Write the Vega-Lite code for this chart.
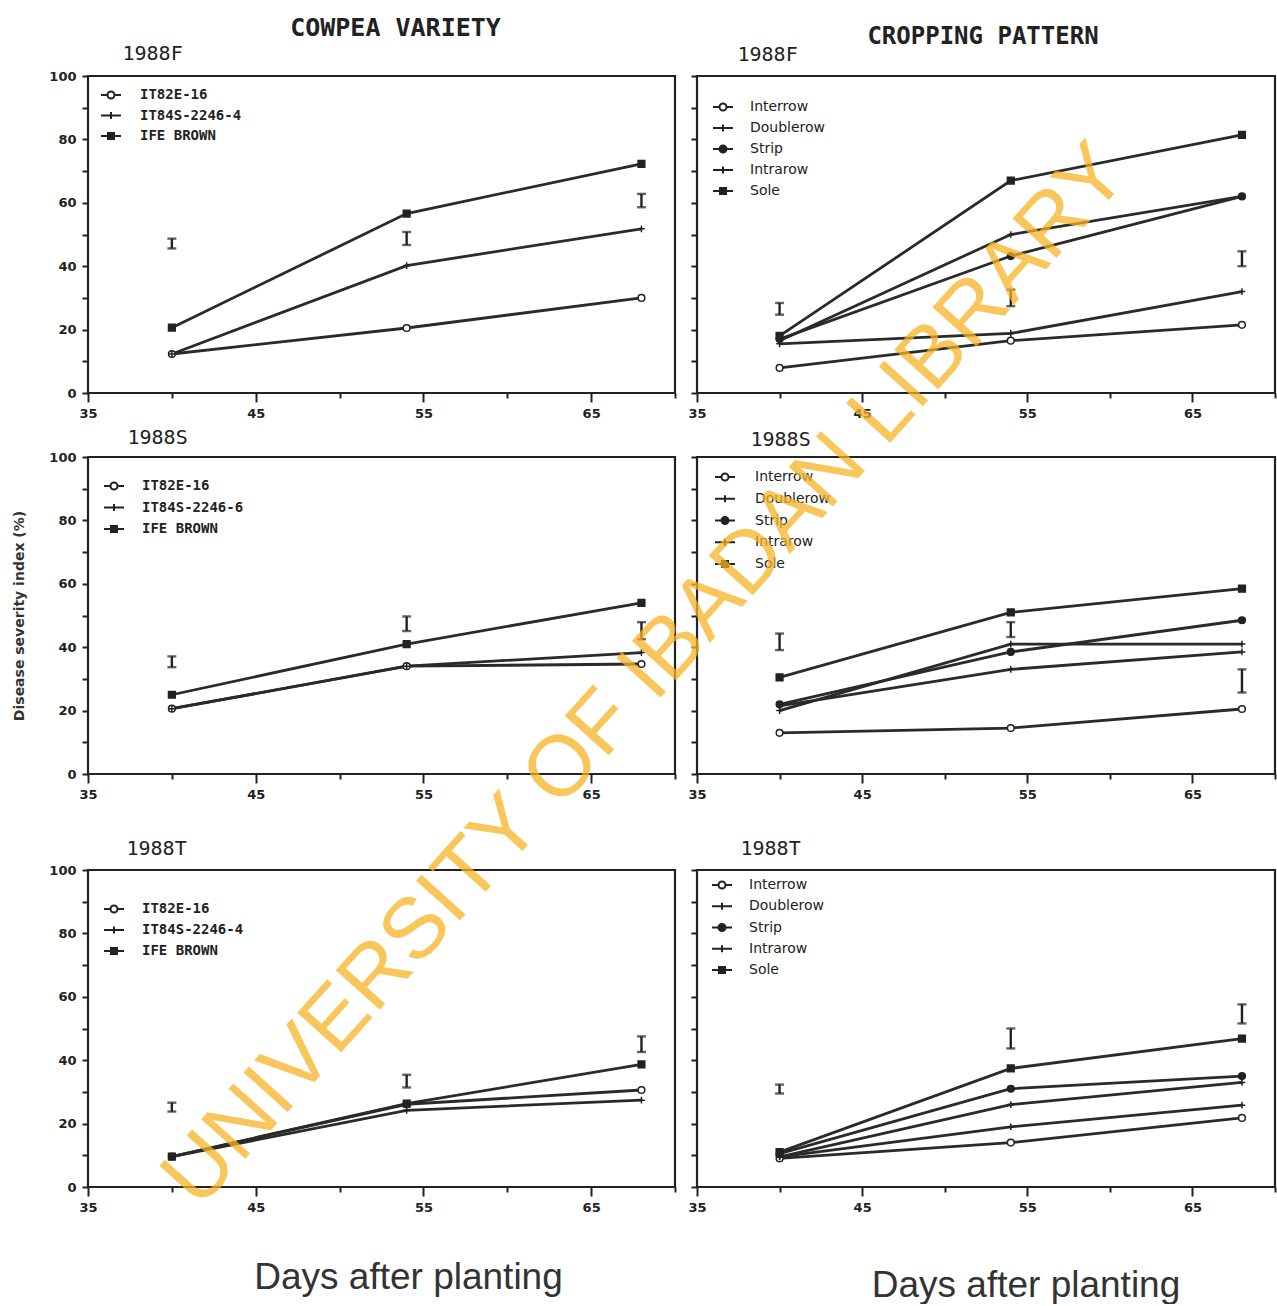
{
  "$schema": "https://vega.github.io/schema/vega-lite/v6.json",
  "background": "white",
  "padding": {"left": 12, "top": 16, "right": 0, "bottom": 0},
  "bounds": "flush",
  "align": "each",
  "columns": 2,
  "spacing": {"row": 64, "column": 22},
  "resolve": {
    "scale": {"shape": "independent", "fill": "independent"},
    "legend": {"shape": "independent", "fill": "independent"}
  },
  "config": {
    "view": {"stroke": null},
    "font": "DejaVu Sans",
    "axis": {
      "domain": false,
      "grid": false,
      "tickColor": "#222222",
      "tickWidth": 2,
      "labelFont": "DejaVu Sans",
      "labelFontWeight": "bold",
      "labelFontSize": 13,
      "labelColor": "#222222",
      "titleFont": "DejaVu Sans Mono",
      "titleFontSize": 20,
      "titleFontWeight": "normal",
      "titleColor": "#222222"
    },
    "axisX": {"labelFlush": false, "labelPadding": 5},
    "axisY": {"labelPadding": 6, "tickSize": 6},
    "legend": {
      "orient": "none",
      "symbolSize": 400,
      "symbolOpacity": 1,
      "symbolStrokeColor": "#222222",
      "symbolStrokeWidth": 2,
      "symbolFillColor": "transparent",
      "padding": 0,
      "labelColor": "#222222",
      "labelFontSize": 14
    }
  },
  "concat": [
    {
      "width": 587,
      "height": 317,
      "title": {"text": "COWPEA VARIETY", "anchor": "middle", "frame": "group", "dx": 14, "offset": -18, "baseline": "alphabetic", "font": "DejaVu Sans Mono", "fontSize": 25, "fontWeight": "bold", "color": "#222222"},
      "resolve": {"scale": {"shape": "independent", "fill": "independent"}},
      "data": {"values": [
        {"series": "IT82E-16", "day": 40, "severity": 12.3},
        {"series": "IT82E-16", "day": 54, "severity": 20.5},
        {"series": "IT82E-16", "day": 68, "severity": 30.0},
        {"series": "IT84S-2246-4", "day": 40, "severity": 12.3},
        {"series": "IT84S-2246-4", "day": 54, "severity": 40.2},
        {"series": "IT84S-2246-4", "day": 68, "severity": 51.8},
        {"series": "IFE BROWN", "day": 40, "severity": 20.6},
        {"series": "IFE BROWN", "day": 54, "severity": 56.6},
        {"series": "IFE BROWN", "day": 68, "severity": 72.3}
      ]},
      "encoding": {
        "x": {"field": "day", "type": "quantitative", "scale": {"domain": [35, 70], "nice": false, "zero": false},
          "axis": {"values": [35, 40, 45, 50, 55, 60, 65, 70], "labelExpr": "(datum.value - 35) % 10 === 0 ? datum.label : ''",
            "tickSize": {"condition": {"test": "(datum.value - 35) % 10 === 0", "value": 9}, "value": 5}, "title": null}},
        "y": {"field": "severity", "type": "quantitative", "scale": {"domain": [0, 100], "nice": false},
          "axis": {"values": [0, 10, 20, 30, 40, 50, 60, 70, 80, 90, 100], "labelExpr": "datum.value % 20 === 0 ? datum.label : ''",
            "title": "1988F", "titleAngle": 0, "titleAlign": "left", "titleBaseline": "alphabetic", "titleX": 34, "titleY": -17}}
      },
      "layer": [
        {"data": {"values": [{"part": "frame"}]}, "mark": {"type": "rect", "filled": false, "color": "#222222", "strokeWidth": 2.2, "invalid": "show"},
          "encoding": {"x": {"datum": 35, "type": "quantitative"}, "x2": {"datum": 70}, "y": {"datum": 0, "type": "quantitative"}, "y2": {"datum": 100}}},
        {"mark": {"type": "line", "color": "#2a2a2a", "strokeWidth": 2.8}, "encoding": {"detail": {"field": "series", "type": "nominal"}}},
        {"mark": {"type": "point", "filled": true, "stroke": "#222222", "strokeWidth": 1.5, "size": 45, "opacity": 1},
          "encoding": {
            "shape": {"field": "series", "type": "nominal",
              "scale": {"domain": ["IT82E-16", "IT84S-2246-4", "IFE BROWN"], "range": ["circle", "M-1,0H1M0,-1V1", "square"]}, "legend": null},
            "fill": {"field": "series", "type": "nominal",
              "scale": {"domain": ["IT82E-16", "IT84S-2246-4", "IFE BROWN"], "range": ["#ffffff", "#222222", "#222222"]}, "legend": null}
          }},
        {"mark": {"type": "point", "filled": false, "color": "#222222", "strokeWidth": 2, "size": 400, "opacity": 0},
          "encoding": {
            "shape": {"field": "series", "type": "nominal",
              "scale": {"domain": ["IT82E-16", "IT84S-2246-4", "IFE BROWN"],
                "range": ["M-1,0H-0.35M0.35,0H1M0.35,0A0.35,0.35,0,1,1,-0.35,0A0.35,0.35,0,1,1,0.35,0", "M-1,0H1M0,-0.35V0.35", "M-1,0H1M-0.3,-0.3H0.3V0.3H-0.3ZM-0.3,-0.15H0.3M-0.3,0.15H0.3"]},
              "legend": {"title": null, "legendX": 12, "legendY": 8, "rowPadding": 1.5, "labelOffset": 18,
                "labelFont": "DejaVu Sans Mono", "labelFontWeight": "bold"}}
          }},
        {"data": {"values": [
            {"day": 40, "lo": 45.6, "hi": 48.7},
            {"day": 54, "lo": 46.7, "hi": 50.8},
            {"day": 68, "lo": 58.6, "hi": 62.8}
          ]},
          "mark": {"type": "errorbar", "ticks": true, "size": 9, "thickness": 2.4, "color": "#222222"},
          "encoding": {"y": {"field": "lo", "type": "quantitative"}, "y2": {"field": "hi"}}}
      ]
    },
    {
      "width": 578,
      "height": 317,
      "title": {"text": "CROPPING PATTERN", "anchor": "middle", "frame": "group", "dx": -3, "offset": -24, "baseline": "alphabetic", "font": "DejaVu Sans Mono", "fontSize": 24, "fontWeight": "bold", "color": "#222222"},
      "resolve": {"scale": {"shape": "independent", "fill": "independent"}},
      "data": {"values": [
        {"series": "Interrow", "day": 40, "severity": 7.9},
        {"series": "Interrow", "day": 54, "severity": 16.5},
        {"series": "Interrow", "day": 68, "severity": 21.5},
        {"series": "Doublerow", "day": 40, "severity": 16.5},
        {"series": "Doublerow", "day": 54, "severity": 50.0},
        {"series": "Doublerow", "day": 68, "severity": 62.0},
        {"series": "Strip", "day": 40, "severity": 17.0},
        {"series": "Strip", "day": 54, "severity": 43.2},
        {"series": "Strip", "day": 68, "severity": 62.0},
        {"series": "Intrarow", "day": 40, "severity": 15.5},
        {"series": "Intrarow", "day": 54, "severity": 18.8},
        {"series": "Intrarow", "day": 68, "severity": 32.0},
        {"series": "Sole", "day": 40, "severity": 18.0},
        {"series": "Sole", "day": 54, "severity": 67.0},
        {"series": "Sole", "day": 68, "severity": 81.4}
      ]},
      "encoding": {
        "x": {"field": "day", "type": "quantitative", "scale": {"domain": [35, 70], "nice": false, "zero": false},
          "axis": {"values": [35, 40, 45, 50, 55, 60, 65, 70], "labelExpr": "(datum.value - 35) % 10 === 0 ? datum.label : ''",
            "tickSize": {"condition": {"test": "(datum.value - 35) % 10 === 0", "value": 9}, "value": 5}, "title": null}},
        "y": {"field": "severity", "type": "quantitative", "scale": {"domain": [0, 100], "nice": false},
          "axis": {"values": [0, 10, 20, 30, 40, 50, 60, 70, 80, 90, 100], "labels": false,
            "title": "1988F", "titleAngle": 0, "titleAlign": "left", "titleBaseline": "alphabetic", "titleX": 40, "titleY": -16}}
      },
      "layer": [
        {"data": {"values": [{"part": "frame"}]}, "mark": {"type": "rect", "filled": false, "color": "#222222", "strokeWidth": 2.2, "invalid": "show"},
          "encoding": {"x": {"datum": 35, "type": "quantitative"}, "x2": {"datum": 70}, "y": {"datum": 0, "type": "quantitative"}, "y2": {"datum": 100}}},
        {"mark": {"type": "line", "color": "#2a2a2a", "strokeWidth": 2.8}, "encoding": {"detail": {"field": "series", "type": "nominal"}}},
        {"mark": {"type": "point", "filled": true, "stroke": "#222222", "strokeWidth": 1.5, "size": 45, "opacity": 1},
          "encoding": {
            "shape": {"field": "series", "type": "nominal",
              "scale": {"domain": ["Interrow", "Doublerow", "Strip", "Intrarow", "Sole"], "range": ["circle", "M-1,0H1M0,-1V1", "circle", "M-1,0H1M0,-1V1", "square"]}, "legend": null},
            "fill": {"field": "series", "type": "nominal",
              "scale": {"domain": ["Interrow", "Doublerow", "Strip", "Intrarow", "Sole"], "range": ["#ffffff", "#222222", "#222222", "#222222", "#222222"]}, "legend": null}
          }},
        {"mark": {"type": "point", "filled": false, "color": "#222222", "strokeWidth": 2, "size": 400, "opacity": 0},
          "encoding": {
            "shape": {"field": "series", "type": "nominal",
              "scale": {"domain": ["Interrow", "Doublerow", "Strip", "Intrarow", "Sole"],
                "range": ["M-1,0H-0.35M0.35,0H1M0.35,0A0.35,0.35,0,1,1,-0.35,0A0.35,0.35,0,1,1,0.35,0", "M-1,0H1M0,-0.35V0.35", "M-1,0H1M0.35,0A0.35,0.35,0,1,1,-0.35,0A0.35,0.35,0,1,1,0.35,0M0.17,0A0.17,0.17,0,1,1,-0.17,0A0.17,0.17,0,1,1,0.17,0", "M-1,0H1M0,-0.35V0.35", "M-1,0H1M-0.3,-0.3H0.3V0.3H-0.3ZM-0.3,-0.15H0.3M-0.3,0.15H0.3"]},
              "legend": {"title": null, "legendX": 15, "legendY": 20, "rowPadding": 2, "labelOffset": 16, "labelFont": "DejaVu Sans"}}
          }},
        {"data": {"values": [
            {"day": 40, "lo": 24.7, "hi": 28.4},
            {"day": 54, "lo": 27.4, "hi": 32.6},
            {"day": 68, "lo": 40.0, "hi": 44.7}
          ]},
          "mark": {"type": "errorbar", "ticks": true, "size": 9, "thickness": 2.4, "color": "#222222"},
          "encoding": {"y": {"field": "lo", "type": "quantitative"}, "y2": {"field": "hi"}}}
      ]
    },
    {
      "width": 587,
      "height": 317,
      "resolve": {"scale": {"shape": "independent", "fill": "independent"}},
      "data": {"values": [
        {"series": "IT82E-16", "day": 40, "severity": 20.6},
        {"series": "IT82E-16", "day": 54, "severity": 34.0},
        {"series": "IT82E-16", "day": 68, "severity": 34.7},
        {"series": "IT84S-2246-6", "day": 40, "severity": 20.6},
        {"series": "IT84S-2246-6", "day": 54, "severity": 34.0},
        {"series": "IT84S-2246-6", "day": 68, "severity": 38.3},
        {"series": "IFE BROWN", "day": 40, "severity": 25.0},
        {"series": "IFE BROWN", "day": 54, "severity": 41.0},
        {"series": "IFE BROWN", "day": 68, "severity": 54.0}
      ]},
      "encoding": {
        "x": {"field": "day", "type": "quantitative", "scale": {"domain": [35, 70], "nice": false, "zero": false},
          "axis": {"values": [35, 40, 45, 50, 55, 60, 65, 70], "labelExpr": "(datum.value - 35) % 10 === 0 ? datum.label : ''",
            "tickSize": {"condition": {"test": "(datum.value - 35) % 10 === 0", "value": 9}, "value": 5},
            "title": "1988S", "titleAngle": 0, "titleAlign": "left", "titleBaseline": "alphabetic", "titleX": 39, "titleY": -331}},
        "y": {"field": "severity", "type": "quantitative", "scale": {"domain": [0, 100], "nice": false},
          "axis": {"values": [0, 10, 20, 30, 40, 50, 60, 70, 80, 90, 100], "labelExpr": "datum.value % 20 === 0 ? datum.label : ''",
            "title": "Disease severity index (%)", "titleFont": "DejaVu Sans", "titleFontSize": 14, "titleFontWeight": "bold", "titleColor": "#333333", "titlePadding": 22}}
      },
      "layer": [
        {"data": {"values": [{"part": "frame"}]}, "mark": {"type": "rect", "filled": false, "color": "#222222", "strokeWidth": 2.2, "invalid": "show"},
          "encoding": {"x": {"datum": 35, "type": "quantitative"}, "x2": {"datum": 70}, "y": {"datum": 0, "type": "quantitative"}, "y2": {"datum": 100}}},
        {"mark": {"type": "line", "color": "#2a2a2a", "strokeWidth": 2.8}, "encoding": {"detail": {"field": "series", "type": "nominal"}}},
        {"mark": {"type": "point", "filled": true, "stroke": "#222222", "strokeWidth": 1.5, "size": 45, "opacity": 1},
          "encoding": {
            "shape": {"field": "series", "type": "nominal",
              "scale": {"domain": ["IT82E-16", "IT84S-2246-6", "IFE BROWN"], "range": ["circle", "M-1,0H1M0,-1V1", "square"]}, "legend": null},
            "fill": {"field": "series", "type": "nominal",
              "scale": {"domain": ["IT82E-16", "IT84S-2246-6", "IFE BROWN"], "range": ["#ffffff", "#222222", "#222222"]}, "legend": null}
          }},
        {"mark": {"type": "point", "filled": false, "color": "#222222", "strokeWidth": 2, "size": 400, "opacity": 0},
          "encoding": {
            "shape": {"field": "series", "type": "nominal",
              "scale": {"domain": ["IT82E-16", "IT84S-2246-6", "IFE BROWN"],
                "range": ["M-1,0H-0.35M0.35,0H1M0.35,0A0.35,0.35,0,1,1,-0.35,0A0.35,0.35,0,1,1,0.35,0", "M-1,0H1M0,-0.35V0.35", "M-1,0H1M-0.3,-0.3H0.3V0.3H-0.3ZM-0.3,-0.15H0.3M-0.3,0.15H0.3"]},
              "legend": {"title": null, "legendX": 15, "legendY": 18, "rowPadding": 2.5, "labelOffset": 17,
                "labelFont": "DejaVu Sans Mono", "labelFontWeight": "bold"}}
          }},
        {"data": {"values": [
            {"day": 40, "lo": 33.7, "hi": 37.1},
            {"day": 54, "lo": 45.1, "hi": 49.7},
            {"day": 68, "lo": 42.5, "hi": 47.9}
          ]},
          "mark": {"type": "errorbar", "ticks": true, "size": 9, "thickness": 2.4, "color": "#222222"},
          "encoding": {"y": {"field": "lo", "type": "quantitative"}, "y2": {"field": "hi"}}}
      ]
    },
    {
      "width": 578,
      "height": 317,
      "resolve": {"scale": {"shape": "independent", "fill": "independent"}},
      "data": {"values": [
        {"series": "Interrow", "day": 40, "severity": 13.0},
        {"series": "Interrow", "day": 54, "severity": 14.5},
        {"series": "Interrow", "day": 68, "severity": 20.5},
        {"series": "Doublerow", "day": 40, "severity": 20.0},
        {"series": "Doublerow", "day": 54, "severity": 41.0},
        {"series": "Doublerow", "day": 68, "severity": 41.0},
        {"series": "Strip", "day": 40, "severity": 22.0},
        {"series": "Strip", "day": 54, "severity": 38.5},
        {"series": "Strip", "day": 68, "severity": 48.5},
        {"series": "Intrarow", "day": 40, "severity": 21.5},
        {"series": "Intrarow", "day": 54, "severity": 33.0},
        {"series": "Intrarow", "day": 68, "severity": 38.5},
        {"series": "Sole", "day": 40, "severity": 30.5},
        {"series": "Sole", "day": 54, "severity": 51.0},
        {"series": "Sole", "day": 68, "severity": 58.5}
      ]},
      "encoding": {
        "x": {"field": "day", "type": "quantitative", "scale": {"domain": [35, 70], "nice": false, "zero": false},
          "axis": {"values": [35, 40, 45, 50, 55, 60, 65, 70], "labelExpr": "(datum.value - 35) % 10 === 0 ? datum.label : ''",
            "tickSize": {"condition": {"test": "(datum.value - 35) % 10 === 0", "value": 9}, "value": 5}, "title": null}},
        "y": {"field": "severity", "type": "quantitative", "scale": {"domain": [0, 100], "nice": false},
          "axis": {"values": [0, 10, 20, 30, 40, 50, 60, 70, 80, 90, 100], "labels": false,
            "title": "1988S", "titleAngle": 0, "titleAlign": "left", "titleBaseline": "alphabetic", "titleX": 53, "titleY": -12}}
      },
      "layer": [
        {"data": {"values": [{"part": "frame"}]}, "mark": {"type": "rect", "filled": false, "color": "#222222", "strokeWidth": 2.2, "invalid": "show"},
          "encoding": {"x": {"datum": 35, "type": "quantitative"}, "x2": {"datum": 70}, "y": {"datum": 0, "type": "quantitative"}, "y2": {"datum": 100}}},
        {"mark": {"type": "line", "color": "#2a2a2a", "strokeWidth": 2.8}, "encoding": {"detail": {"field": "series", "type": "nominal"}}},
        {"mark": {"type": "point", "filled": true, "stroke": "#222222", "strokeWidth": 1.5, "size": 45, "opacity": 1},
          "encoding": {
            "shape": {"field": "series", "type": "nominal",
              "scale": {"domain": ["Interrow", "Doublerow", "Strip", "Intrarow", "Sole"], "range": ["circle", "M-1,0H1M0,-1V1", "circle", "M-1,0H1M0,-1V1", "square"]}, "legend": null},
            "fill": {"field": "series", "type": "nominal",
              "scale": {"domain": ["Interrow", "Doublerow", "Strip", "Intrarow", "Sole"], "range": ["#ffffff", "#222222", "#222222", "#222222", "#222222"]}, "legend": null}
          }},
        {"mark": {"type": "point", "filled": false, "color": "#222222", "strokeWidth": 2, "size": 400, "opacity": 0},
          "encoding": {
            "shape": {"field": "series", "type": "nominal",
              "scale": {"domain": ["Interrow", "Doublerow", "Strip", "Intrarow", "Sole"],
                "range": ["M-1,0H-0.35M0.35,0H1M0.35,0A0.35,0.35,0,1,1,-0.35,0A0.35,0.35,0,1,1,0.35,0", "M-1,0H1M0,-0.35V0.35", "M-1,0H1M0.35,0A0.35,0.35,0,1,1,-0.35,0A0.35,0.35,0,1,1,0.35,0M0.17,0A0.17,0.17,0,1,1,-0.17,0A0.17,0.17,0,1,1,0.17,0", "M-1,0H1M0,-0.35V0.35", "M-1,0H1M-0.3,-0.3H0.3V0.3H-0.3ZM-0.3,-0.15H0.3M-0.3,0.15H0.3"]},
              "legend": {"title": null, "legendX": 17, "legendY": 9, "rowPadding": 2.75, "labelOffset": 19, "labelFont": "DejaVu Sans"}}
          }},
        {"data": {"values": [
            {"day": 40, "lo": 39.1, "hi": 44.3},
            {"day": 54, "lo": 43.2, "hi": 47.9},
            {"day": 68, "lo": 25.7, "hi": 33.0}
          ]},
          "mark": {"type": "errorbar", "ticks": true, "size": 9, "thickness": 2.4, "color": "#222222"},
          "encoding": {"y": {"field": "lo", "type": "quantitative"}, "y2": {"field": "hi"}}}
      ]
    },
    {
      "width": 587,
      "height": 349,
      "title": {"text": "Days after planting", "orient": "bottom", "anchor": "middle", "frame": "group", "dx": 27, "offset": 46, "font": "Liberation Sans", "fontSize": 37, "fontWeight": "normal", "color": "#333333"},
      "resolve": {"scale": {"shape": "independent", "fill": "independent"}},
      "data": {"values": [
        {"series": "IT82E-16", "day": 40, "severity": 9.6},
        {"series": "IT82E-16", "day": 54, "severity": 26.1},
        {"series": "IT82E-16", "day": 68, "severity": 30.6},
        {"series": "IT84S-2246-4", "day": 40, "severity": 9.6},
        {"series": "IT84S-2246-4", "day": 54, "severity": 24.2},
        {"series": "IT84S-2246-4", "day": 68, "severity": 27.4},
        {"series": "IFE BROWN", "day": 40, "severity": 9.6},
        {"series": "IFE BROWN", "day": 54, "severity": 26.3},
        {"series": "IFE BROWN", "day": 68, "severity": 38.7}
      ]},
      "encoding": {
        "x": {"field": "day", "type": "quantitative", "scale": {"domain": [35, 70], "nice": false, "zero": false},
          "axis": {"values": [35, 40, 45, 50, 55, 60, 65, 70], "labelExpr": "(datum.value - 35) % 10 === 0 ? datum.label : ''",
            "tickSize": {"condition": {"test": "(datum.value - 35) % 10 === 0", "value": 9}, "value": 5}, "title": null}},
        "y": {"field": "severity", "type": "quantitative", "scale": {"domain": [0, 100], "range": [349, 32], "nice": false},
          "axis": {"values": [0, 10, 20, 30, 40, 50, 60, 70, 80, 90, 100], "labelExpr": "datum.value % 20 === 0 ? datum.label : ''",
            "title": "1988T", "titleAngle": 0, "titleAlign": "left", "titleBaseline": "alphabetic", "titleX": 38, "titleY": 16}}
      },
      "layer": [
        {"data": {"values": [{"part": "frame"}]}, "mark": {"type": "rect", "filled": false, "color": "#222222", "strokeWidth": 2.2, "invalid": "show"},
          "encoding": {"x": {"datum": 35, "type": "quantitative"}, "x2": {"datum": 70}, "y": {"datum": 0, "type": "quantitative"}, "y2": {"datum": 100}}},
        {"mark": {"type": "line", "color": "#2a2a2a", "strokeWidth": 2.8}, "encoding": {"detail": {"field": "series", "type": "nominal"}}},
        {"mark": {"type": "point", "filled": true, "stroke": "#222222", "strokeWidth": 1.5, "size": 45, "opacity": 1},
          "encoding": {
            "shape": {"field": "series", "type": "nominal",
              "scale": {"domain": ["IT82E-16", "IT84S-2246-4", "IFE BROWN"], "range": ["circle", "M-1,0H1M0,-1V1", "square"]}, "legend": null},
            "fill": {"field": "series", "type": "nominal",
              "scale": {"domain": ["IT82E-16", "IT84S-2246-4", "IFE BROWN"], "range": ["#ffffff", "#222222", "#222222"]}, "legend": null}
          }},
        {"mark": {"type": "point", "filled": false, "color": "#222222", "strokeWidth": 2, "size": 400, "opacity": 0},
          "encoding": {
            "shape": {"field": "series", "type": "nominal",
              "scale": {"domain": ["IT82E-16", "IT84S-2246-4", "IFE BROWN"],
                "range": ["M-1,0H-0.35M0.35,0H1M0.35,0A0.35,0.35,0,1,1,-0.35,0A0.35,0.35,0,1,1,0.35,0", "M-1,0H1M0,-0.35V0.35", "M-1,0H1M-0.3,-0.3H0.3V0.3H-0.3ZM-0.3,-0.15H0.3M-0.3,0.15H0.3"]},
              "legend": {"title": null, "legendX": 15, "legendY": 60, "rowPadding": 2, "labelOffset": 17,
                "labelFont": "DejaVu Sans Mono", "labelFontWeight": "bold"}}
          }},
        {"data": {"values": [
            {"day": 40, "lo": 23.8, "hi": 26.6},
            {"day": 54, "lo": 31.4, "hi": 35.4},
            {"day": 68, "lo": 42.6, "hi": 47.5}
          ]},
          "mark": {"type": "errorbar", "ticks": true, "size": 9, "thickness": 2.4, "color": "#222222"},
          "encoding": {"y": {"field": "lo", "type": "quantitative"}, "y2": {"field": "hi"}}}
      ]
    },
    {
      "width": 578,
      "height": 349,
      "title": {"text": "Days after planting", "orient": "bottom", "anchor": "middle", "frame": "group", "dx": 40, "offset": 46, "font": "Liberation Sans", "fontSize": 37, "fontWeight": "normal", "color": "#333333"},
      "resolve": {"scale": {"shape": "independent", "fill": "independent"}},
      "data": {"values": [
        {"series": "Interrow", "day": 40, "severity": 9.0},
        {"series": "Interrow", "day": 54, "severity": 14.0},
        {"series": "Interrow", "day": 68, "severity": 21.8},
        {"series": "Doublerow", "day": 40, "severity": 9.5},
        {"series": "Doublerow", "day": 54, "severity": 26.0},
        {"series": "Doublerow", "day": 68, "severity": 33.0},
        {"series": "Strip", "day": 40, "severity": 10.5},
        {"series": "Strip", "day": 54, "severity": 31.0},
        {"series": "Strip", "day": 68, "severity": 35.0},
        {"series": "Intrarow", "day": 40, "severity": 9.5},
        {"series": "Intrarow", "day": 54, "severity": 19.0},
        {"series": "Intrarow", "day": 68, "severity": 25.8},
        {"series": "Sole", "day": 40, "severity": 11.0},
        {"series": "Sole", "day": 54, "severity": 37.4},
        {"series": "Sole", "day": 68, "severity": 46.8}
      ]},
      "encoding": {
        "x": {"field": "day", "type": "quantitative", "scale": {"domain": [35, 70], "nice": false, "zero": false},
          "axis": {"values": [35, 40, 45, 50, 55, 60, 65, 70], "labelExpr": "(datum.value - 35) % 10 === 0 ? datum.label : ''",
            "tickSize": {"condition": {"test": "(datum.value - 35) % 10 === 0", "value": 9}, "value": 5},
            "zindex": 1,
            "title": "UNIVERSITY OF IBADAN LIBRARY", "titleX": -52, "titleY": -512, "titleAngle": -48, "titleAlign": "center", "titleBaseline": "middle",
            "titleFont": "Liberation Sans", "titleFontSize": 86, "titleFontWeight": "normal", "titleColor": "#f5b324", "titleOpacity": 0.75}},
        "y": {"field": "severity", "type": "quantitative", "scale": {"domain": [0, 100], "range": [349, 32], "nice": false},
          "axis": {"values": [0, 10, 20, 30, 40, 50, 60, 70, 80, 90, 100], "labels": false,
            "title": "1988T", "titleAngle": 0, "titleAlign": "left", "titleBaseline": "alphabetic", "titleX": 43, "titleY": 16}}
      },
      "layer": [
        {"data": {"values": [{"part": "frame"}]}, "mark": {"type": "rect", "filled": false, "color": "#222222", "strokeWidth": 2.2, "invalid": "show"},
          "encoding": {"x": {"datum": 35, "type": "quantitative"}, "x2": {"datum": 70}, "y": {"datum": 0, "type": "quantitative"}, "y2": {"datum": 100}}},
        {"mark": {"type": "line", "color": "#2a2a2a", "strokeWidth": 2.8}, "encoding": {"detail": {"field": "series", "type": "nominal"}}},
        {"mark": {"type": "point", "filled": true, "stroke": "#222222", "strokeWidth": 1.5, "size": 45, "opacity": 1},
          "encoding": {
            "shape": {"field": "series", "type": "nominal",
              "scale": {"domain": ["Interrow", "Doublerow", "Strip", "Intrarow", "Sole"], "range": ["circle", "M-1,0H1M0,-1V1", "circle", "M-1,0H1M0,-1V1", "square"]}, "legend": null},
            "fill": {"field": "series", "type": "nominal",
              "scale": {"domain": ["Interrow", "Doublerow", "Strip", "Intrarow", "Sole"], "range": ["#ffffff", "#222222", "#222222", "#222222", "#222222"]}, "legend": null}
          }},
        {"mark": {"type": "point", "filled": false, "color": "#222222", "strokeWidth": 2, "size": 400, "opacity": 0},
          "encoding": {
            "shape": {"field": "series", "type": "nominal",
              "scale": {"domain": ["Interrow", "Doublerow", "Strip", "Intrarow", "Sole"],
                "range": ["M-1,0H-0.35M0.35,0H1M0.35,0A0.35,0.35,0,1,1,-0.35,0A0.35,0.35,0,1,1,0.35,0", "M-1,0H1M0,-0.35V0.35", "M-1,0H1M0.35,0A0.35,0.35,0,1,1,-0.35,0A0.35,0.35,0,1,1,0.35,0M0.17,0A0.17,0.17,0,1,1,-0.17,0A0.17,0.17,0,1,1,0.17,0", "M-1,0H1M0,-0.35V0.35", "M-1,0H1M-0.3,-0.3H0.3V0.3H-0.3ZM-0.3,-0.15H0.3M-0.3,0.15H0.3"]},
              "legend": {"title": null, "legendX": 14, "legendY": 36, "rowPadding": 2.25, "labelOffset": 16, "labelFont": "DejaVu Sans"}}
          }},
        {"data": {"values": [
            {"day": 40, "lo": 29.5, "hi": 32.3},
            {"day": 54, "lo": 43.7, "hi": 50.0},
            {"day": 68, "lo": 51.6, "hi": 57.6}
          ]},
          "mark": {"type": "errorbar", "ticks": true, "size": 9, "thickness": 2.4, "color": "#222222"},
          "encoding": {"y": {"field": "lo", "type": "quantitative"}, "y2": {"field": "hi"}}}
      ]
    }
  ]
}
